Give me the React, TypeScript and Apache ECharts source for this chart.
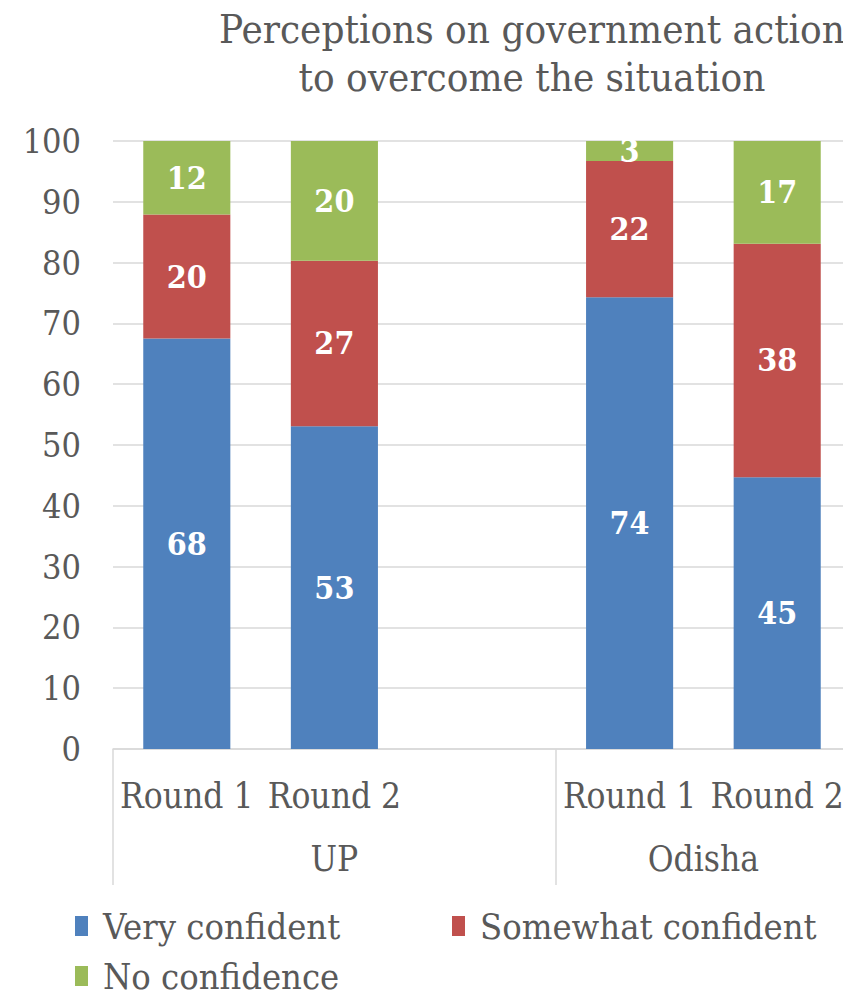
import React, { useEffect, useRef } from "react";
import * as echarts from "echarts";

const categories = ["Round 1", "Round 2", "", "Round 1", "Round 2"];
const groupLabels = ["UP", "Odisha"];
const groupCenters = [1.5, 4];
const groupBounds = [0, 3, 5];
const veryConfident: (number | string)[] = [67.5, 53.1, "-", 74.3, 44.7];
const somewhatConfident: (number | string)[] = [20.4, 27.2, "-", 22.4, 38.4];
const noConfidence: (number | string)[] = [12.1, 19.7, "-", 3.3, 16.9];
const seriesNames = ["Very confident", "Somewhat confident", "No confidence"];
const colors = ["#4f81bd", "#c0504d", "#9bbb59"];

const FONT = "DejaVu Serif Condensed, Liberation Serif, serif";
const GREY = "#595959";

export default function App() {
  const ref = useRef<HTMLDivElement>(null);
  useEffect(() => {
    if (!ref.current) return;
    const chart = echarts.init(ref.current, null, { renderer: "svg" });
    const label = {
      show: true,
      position: "inside",
      color: "#ffffff",
      fontFamily: FONT,
      fontWeight: "bold",
      fontSize: 32,
      formatter: (p: any) => String(Math.round(p.value)),
    };
    const mk = (name: string, data: (number | string)[], color: string) => ({
      name,
      type: "bar",
      stack: "total",
      data,
      barWidth: "59%",
      itemStyle: { color },
      label,
      xAxisIndex: 0,
    });
    chart.setOption({
      animation: false,
      textStyle: { fontFamily: FONT },
      title: {
        text: "Perceptions on government action\nto overcome the situation",
        left: 527,
        top: 0,
        textAlign: "center",
        textStyle: {
          fontFamily: FONT,
          fontWeight: "normal",
          fontSize: 40,
          lineHeight: 48,
          color: GREY,
        },
      },
      legend: {
        left: 70,
        top: 903,
        width: 800,
        itemWidth: 13,
        itemHeight: 20,
        itemGap: 14,
        icon: "rect",
        textStyle: {
          fontFamily: FONT,
          fontSize: 36,
          lineHeight: 34,
          width: 335,
          color: GREY,
          padding: [0, 0, 0, 10],
        },
        data: seriesNames,
      },
      grid: { left: 113, right: 0, top: 141, bottom: 251, containLabel: false },
      xAxis: [
        {
          type: "category",
          data: categories,
          position: "bottom",
          axisLine: { lineStyle: { color: "#d9d9d9", width: 1.5 } },
          axisTick: { show: false },
          axisLabel: {
            interval: 0,
            fontFamily: FONT,
            fontSize: 35,
            color: GREY,
            margin: 29,
          },
        },
        {
          type: "value",
          min: 0,
          max: 5,
          position: "bottom",
          splitLine: { show: false },
          axisLine: { show: false },
          axisTick: {
            show: true,
            customValues: groupBounds,
            length: 136,
            lineStyle: { color: "#d9d9d9", width: 1.5 },
          },
          axisLabel: {
            customValues: groupCenters,
            formatter: (v: number) => {
              const i = groupCenters.indexOf(v);
              return i >= 0 ? groupLabels[i] : "";
            },
            fontFamily: FONT,
            fontSize: 35,
            color: GREY,
            margin: 92,
          },
        },
      ],
      yAxis: {
        type: "value",
        min: 0,
        max: 100,
        interval: 10,
        axisLine: { show: false },
        axisTick: { show: false },
        splitLine: { lineStyle: { color: "#d9d9d9", width: 1.5 } },
        axisLabel: { fontFamily: FONT, fontSize: 34, color: GREY, margin: 32 },
      },
      series: [
        mk(seriesNames[0], veryConfident, colors[0]),
        mk(seriesNames[1], somewhatConfident, colors[1]),
        mk(seriesNames[2], noConfidence, colors[2]),
      ],
    });
    return () => chart.dispose();
  }, []);
  return <div ref={ref} style={{ width: 851, height: 1000, margin: -8 }} />;
}
